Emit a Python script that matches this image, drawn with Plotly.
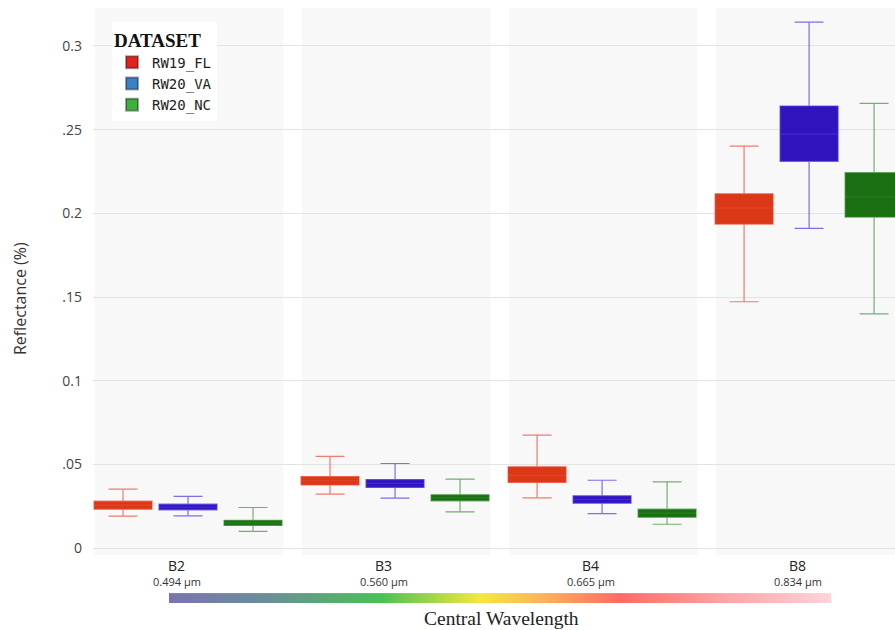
import plotly.graph_objects as go

# Sentinel-2 bands and their central wavelengths
bands = ["B2", "B3", "B4", "B8"]
wavelengths = ["0.494 µm", "0.560 µm", "0.665 µm", "0.834 µm"]

datasets = ["RW19_FL", "RW20_VA", "RW20_NC"]

# Box statistics per dataset, one value per band
rw19_fl_low = [0.0191, 0.0323, 0.0301, 0.1472]
rw19_fl_q1 = [0.0233, 0.0378, 0.0393, 0.1936]
rw19_fl_med = [0.0257, 0.0403, 0.0435, 0.2032]
rw19_fl_q3 = [0.0281, 0.0428, 0.0486, 0.2117]
rw19_fl_high = [0.0353, 0.0548, 0.0675, 0.2402]

rw20_va_low = [0.0193, 0.0299, 0.0207, 0.1911]
rw20_va_q1 = [0.0229, 0.0363, 0.0269, 0.2311]
rw20_va_med = [0.0245, 0.0387, 0.0291, 0.2474]
rw20_va_q3 = [0.0263, 0.0410, 0.0313, 0.2641]
rw20_va_high = [0.0309, 0.0506, 0.0406, 0.3142]

rw20_nc_low = [0.0100, 0.0217, 0.0143, 0.1400]
rw20_nc_q1 = [0.0136, 0.0283, 0.0185, 0.1978]
rw20_nc_med = [0.0151, 0.0301, 0.0209, 0.2099]
rw20_nc_q3 = [0.0167, 0.0319, 0.0233, 0.2243]
rw20_nc_high = [0.0243, 0.0412, 0.0396, 0.2657]

y_tickvals = [0, 0.05, 0.1, 0.15, 0.2, 0.25, 0.3]
y_ticktext = ["0", ".05", "0.1", ".15", "0.2", ".25", "0.3"]

box_fill = ["rgb(218,56,22)", "rgb(50,20,190)", "rgb(26,112,16)"]
box_line = ["rgba(232,72,52,0.7)", "rgba(72,52,225,0.7)", "rgba(45,135,45,0.65)"]
legend_colors = ["#e3221f", "#3b7fc4", "#3fae3f"]

# Spectral ramp shown under the band labels
ramp_stops = [
    [0.00, "#7b73b1"],
    [0.15, "#6a8f98"],
    [0.32, "#48c254"],
    [0.47, "#f5e83e"],
    [0.56, "#fdb45a"],
    [0.68, "#ff6b63"],
    [0.85, "#ffa6a9"],
    [1.00, "#ffd4db"],
]

stats = [
    (rw19_fl_low, rw19_fl_q1, rw19_fl_med, rw19_fl_q3, rw19_fl_high),
    (rw20_va_low, rw20_va_q1, rw20_va_med, rw20_va_q3, rw20_va_high),
    (rw20_nc_low, rw20_nc_q1, rw20_nc_med, rw20_nc_q3, rw20_nc_high),
]

W, H = 895, 630
plot_left, plot_top, plot_bottom = 93, 8, 557

fig = go.Figure()

for i, name in enumerate(datasets):
    lo, q1, med, q3, hi = stats[i]
    fig.add_trace(go.Box(
        name=name, x=bands, lowerfence=lo, q1=q1, median=med, q3=q3, upperfence=hi,
        fillcolor=box_fill[i], line=dict(color=box_line[i], width=1.2),
        whiskerwidth=0.5, offsetgroup=str(i), showlegend=False, boxpoints=False,
    ))

# Legend swatches
for i, name in enumerate(datasets):
    fig.add_trace(go.Scatter(
        x=[None], y=[None], mode="markers", name=name,
        marker=dict(symbol="square", size=12, color=legend_colors[i],
                    line=dict(color="rgba(0,0,0,0.35)", width=1)),
    ))

# Wavelength ramp
ramp_n = 256
fig.add_trace(go.Heatmap(
    z=[list(range(ramp_n))], colorscale=ramp_stops, showscale=False,
    zsmooth="best", hoverinfo="skip", xaxis="x2", yaxis="y2",
))

# Light panels behind each band
shapes = []
for k in range(len(bands)):
    shapes.append(dict(
        type="rect", xref="x", yref="y domain", x0=k - 0.45, x1=k + 0.46, y0=0, y1=1,
        fillcolor="#f8f8f8", line=dict(width=0), layer="below",
    ))

annotations = []
for k, (b, wl) in enumerate(zip(bands, wavelengths)):
    annotations.append(dict(
        x=k - 0.055, xref="x", y=(H - 567) / H, yref="paper", text=b, showarrow=False,
        font=dict(family="Open Sans", size=14, color="#222"), yanchor="middle",
    ))
    annotations.append(dict(
        x=k - 0.055, xref="x", y=(H - 583) / H, yref="paper", text=wl, showarrow=False,
        font=dict(family="Open Sans", size=11, color="#333"), yanchor="middle",
    ))
annotations.append(dict(
    x=501 / W, xref="paper", y=(H - 620) / H, yref="paper", text="Central Wavelength",
    showarrow=False, font=dict(family="Liberation Serif", size=19.5, color="#222"),
    yanchor="middle",
))
annotations.append(dict(
    x=20 / W, xref="paper", y=(H - 300) / H, yref="paper", text="Reflectance (%)",
    showarrow=False, textangle=-90,
    font=dict(family="Open Sans", size=16, color="#333"), xanchor="center", yanchor="middle",
))

fig.update_layout(
    width=W, height=H,
    margin=dict(l=0, r=0, t=0, b=0),
    paper_bgcolor="white", plot_bgcolor="white",
    boxmode="group", boxgap=0.058, boxgroupgap=0.108,
    xaxis=dict(
        domain=[plot_left / W, 1], range=[-0.459, 3.415],
        showticklabels=False, showgrid=False, zeroline=False, showline=False,
        type="category", fixedrange=True,
    ),
    yaxis=dict(
        domain=[(H - plot_bottom) / H, (H - plot_top) / H],
        range=[-0.0042, 0.3227],
        tickvals=y_tickvals, ticktext=y_ticktext,
        tickfont=dict(family="Open Sans", size=14, color="#444"),
        ticklabelstandoff=10,
        showgrid=True, gridcolor="#e3e3e3", gridwidth=1, zeroline=False, showline=False,
    ),
    xaxis2=dict(
        domain=[169 / W, 831 / W], anchor="y2", visible=False,
        range=[-0.5, ramp_n - 0.5],
    ),
    yaxis2=dict(
        domain=[(H - 605) / H, (H - 595) / H], anchor="x2", visible=False,
        range=[-0.5, 0.5],
    ),
    legend=dict(
        x=112 / W, y=(H - 22) / H, xanchor="left", yanchor="top",
        bgcolor="white", borderwidth=0,
        title=dict(text="<b>DATASET</b>",
                   font=dict(family="Liberation Serif", size=19, color="#111")),
        font=dict(family="DejaVu Sans Mono", size=14, color="#222"),
        itemsizing="constant", tracegroupgap=0,
    ),
    shapes=shapes,
    annotations=annotations,
    showlegend=True,
)

fig.write_html("out.html")
